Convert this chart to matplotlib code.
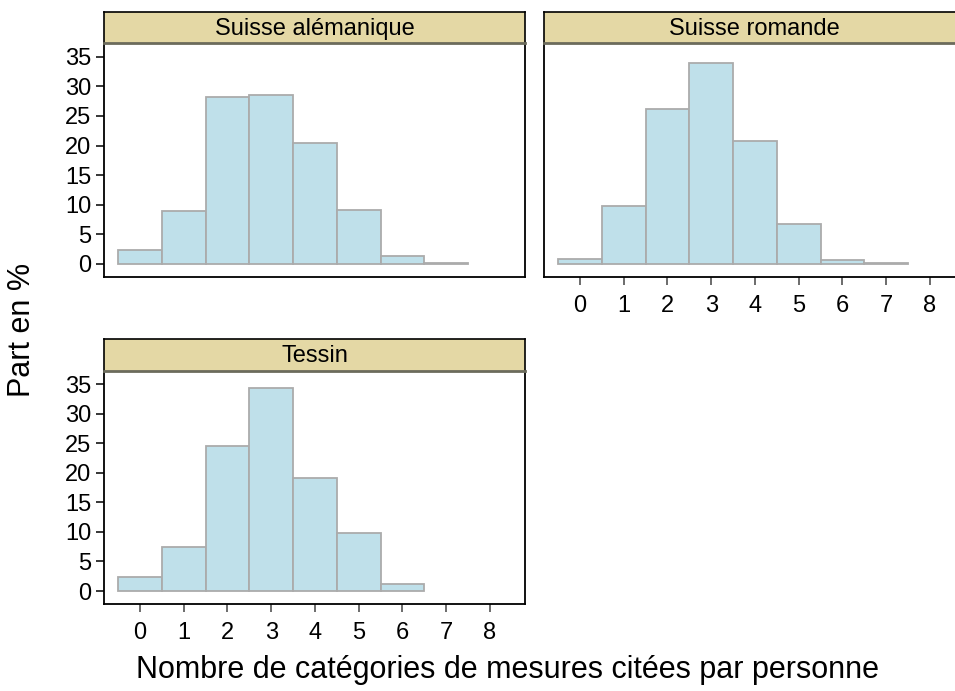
import matplotlib
matplotlib.use("Agg")
import matplotlib.pyplot as plt

plt.rcParams['font.family'] = ['Liberation Sans', 'DejaVu Sans']

categories = [0, 1, 2, 3, 4, 5, 6, 7]
regions = ["Suisse alémanique", "Suisse romande", "Tessin"]
val_alemanique = [2.4, 9.0, 28.2, 28.5, 20.5, 9.1, 1.35, 0.1]
val_romande = [0.8, 9.8, 26.1, 33.9, 20.8, 6.7, 0.7, 0.2]
val_tessin = [2.3, 7.4, 24.5, 34.4, 19.1, 9.9, 1.2, 0.0]
values = [val_alemanique, val_romande, val_tessin]
yticks = [0, 5, 10, 15, 20, 25, 30, 35]
xticks = [0, 1, 2, 3, 4, 5, 6, 7, 8]

W, H = 955, 691
fig = plt.figure(figsize=(W / 100, H / 100), dpi=100)

def px_axes(x0, y0, x1, y1):
    return fig.add_axes([x0 / W, 1 - y1 / H, (x1 - x0) / W, (y1 - y0) / H])

panels = [
    ((104, 43.3, 525, 276.7), (104, 12, 525, 43.3), True, False),
    ((544, 43.3, 965, 276.7), (544, 12, 965, 43.3), False, True),
    ((104, 370.7, 525, 604), (104, 339.5, 525, 370.7), True, True),
]

bar_fill = "#BFE0EA"
bar_edge = "#ABABAB"
strip_col = "#E4D8A5"

for (abox, sbox, showy, showx), name, vals in zip(panels, regions, values):
    ax = px_axes(*abox)
    xs = [c for c, v in zip(categories, vals) if v > 0]
    hs = [v for v in vals if v > 0]
    ax.bar(xs, hs, width=1.0, color=bar_fill, edgecolor=bar_edge, linewidth=1.3)
    ax.set_xlim(-0.82, 8.8)
    ax.set_ylim(-2.2, 37.3)
    for s in ax.spines.values():
        s.set_linewidth(1.3)
        s.set_color("black")
    if showy:
        ax.set_yticks(yticks)
        ax.tick_params(axis='y', direction='out', length=6, width=1.1, labelsize=17, pad=3)
    else:
        ax.set_yticks([])
    if showx:
        ax.set_xticks(xticks)
        ax.tick_params(axis='x', direction='out', length=6, width=1.1, labelsize=17, pad=7,
                       color="#444444")
    else:
        ax.set_xticks([])
    sax = px_axes(*sbox)
    sax.set_facecolor(strip_col)
    sax.set_xticks([])
    sax.set_yticks([])
    for s in sax.spines.values():
        s.set_linewidth(1.2)
        s.set_color("black")
    sax.spines['bottom'].set_color("#6b6b5c")
    sax.spines['bottom'].set_linewidth(2.0)
    sax.text(0.5, 0.47, name, ha='center', va='center', fontsize=17, transform=sax.transAxes)

fig.text(507 / W, 1 - 670 / H, "Nombre de catégories de mesures citées par personne",
         ha='center', va='center', fontsize=22)
fig.text(22 / W, 1 - 330 / H, "Part en %", ha='center', va='center', rotation=90, fontsize=22)

fig.savefig("out.png", dpi=100, facecolor="white")
